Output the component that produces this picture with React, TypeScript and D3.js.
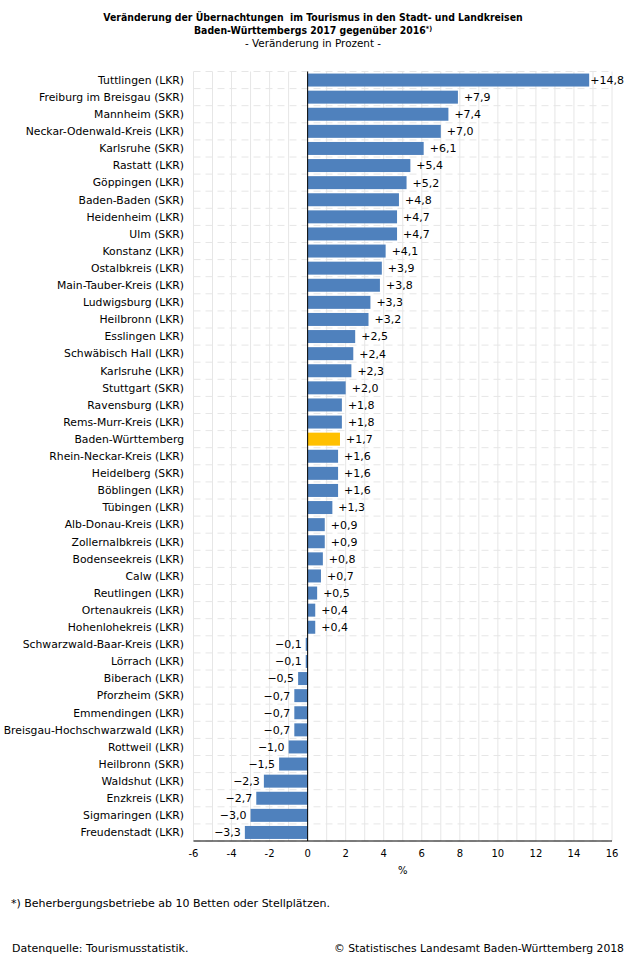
import React from "react";
import * as d3 from "d3";

const categories: string[] = [
  "Tuttlingen (LKR)", "Freiburg im Breisgau (SKR)", "Mannheim (SKR)", "Neckar-Odenwald-Kreis (LKR)",
  "Karlsruhe (SKR)", "Rastatt (LKR)", "Göppingen (LKR)", "Baden-Baden (SKR)", "Heidenheim (LKR)",
  "Ulm (SKR)", "Konstanz (LKR)", "Ostalbkreis (LKR)", "Main-Tauber-Kreis (LKR)", "Ludwigsburg (LKR)",
  "Heilbronn (LKR)", "Esslingen LKR)", "Schwäbisch Hall (LKR)", "Karlsruhe (LKR)", "Stuttgart (SKR)",
  "Ravensburg (LKR)", "Rems-Murr-Kreis (LKR)", "Baden-Württemberg", "Rhein-Neckar-Kreis (LKR)",
  "Heidelberg (SKR)", "Böblingen (LKR)", "Tübingen (LKR)", "Alb-Donau-Kreis (LKR)", "Zollernalbkreis (LKR)",
  "Bodenseekreis (LKR)", "Calw (LKR)", "Reutlingen (LKR)", "Ortenaukreis (LKR)", "Hohenlohekreis (LKR)",
  "Schwarzwald-Baar-Kreis (LKR)", "Lörrach (LKR)", "Biberach (LKR)", "Pforzheim (SKR)", "Emmendingen (LKR)",
  "Breisgau-Hochschwarzwald (LKR)", "Rottweil (LKR)", "Heilbronn (SKR)", "Waldshut (LKR)", "Enzkreis (LKR)",
  "Sigmaringen (LKR)", "Freudenstadt (LKR)",
];

const values: number[] = [
  14.8, 7.9, 7.4, 7.0, 6.1, 5.4, 5.2, 4.8, 4.7, 4.7, 4.1, 3.9, 3.8, 3.3, 3.2, 2.5, 2.4, 2.3, 2.0,
  1.8, 1.8, 1.7, 1.6, 1.6, 1.6, 1.3, 0.9, 0.9, 0.8, 0.7, 0.5, 0.4, 0.4, -0.1, -0.1, -0.5, -0.7, -0.7,
  -0.7, -1.0, -1.5, -2.3, -2.7, -3.0, -3.3,
];

const highlight = "Baden-Württemberg";
const xTicks: number[] = [-6, -4, -2, 0, 2, 4, 6, 8, 10, 12, 14, 16];

const titleLines = [
  "Veränderung der Übernachtungen  im Tourismus in den Stadt- und Landkreisen",
  "Baden-Württembergs 2017 gegenüber 2016",
];
const subtitle = "- Veränderung in Prozent -";
const footnote = "*) Beherbergungsbetriebe ab 10 Betten oder Stellplätzen.";
const source = "Datenquelle: Tourismusstatistik.";
const copyright = "© Statistisches Landesamt Baden-Württemberg 2018";

const W = 626;
const H = 958;
const FONT = "Tahoma, Verdana, 'DejaVu Sans', sans-serif";
const TITLE_FONT = "'DejaVu Sans Condensed', Tahoma, 'DejaVu Sans', sans-serif";

export default function App() {
  const left = 193.5;
  const right = 612;
  const top = 71.5;
  const bottom = 841;

  const x = d3.scaleLinear().domain([-6, 16]).range([left, right]);
  const y = d3.scaleBand<string>().domain(categories).range([top, bottom]).paddingInner(0.24).paddingOuter(0.12);

  const gridX = d3.range(-6, 17, 1);
  const bandStep = y.step();
  const fmt = (v: number) => (v > 0 ? "+" : "\u2212") + d3.format(".1f")(Math.abs(v)).replace(".", ",");

  return (
    <svg width={W} height={H} style={{ position: "absolute", left: 0, top: 0, background: "#fff" }} fontFamily={FONT}>
      <rect x={0} y={0} width={W} height={H} fill="#fff" />
      {/* title */}
      <text x={313} y={21} textAnchor="middle" fontSize={10.4} fontWeight="bold" fill="#000"
        fontFamily={TITLE_FONT} style={{ whiteSpace: "pre" }}>{titleLines[0]}</text>
      <text x={313} y={34} textAnchor="middle" fontSize={10.4} fontWeight="bold" fill="#000" fontFamily={TITLE_FONT}>
        {titleLines[1]}
        <tspan fontSize={7} dy={-3}>*)</tspan>
      </text>
      <text x={313} y={47} textAnchor="middle" fontSize={10.4} fill="#000">{subtitle}</text>

      {/* grid */}
      {gridX.map((g) => (
        <line key={"gx" + g} x1={x(g)} x2={x(g)} y1={top} y2={bottom} stroke="#e6e6e6" strokeWidth={1} />
      ))}
      {d3.range(0, categories.length + 1).map((i) => (
        <line key={"gy" + i} x1={left} x2={right} y1={top + i * bandStep} y2={top + i * bandStep}
          stroke="#e6e6e6" strokeWidth={1} strokeDasharray="7,5" />
      ))}

      {/* bars */}
      {categories.map((c, i) => {
        const v = values[i];
        const x0 = x(Math.min(0, v));
        const w = Math.abs(x(v) - x(0));
        return (
          <rect key={c} x={x0} y={y(c)} width={w} height={y.bandwidth()}
            fill={c === highlight ? "#FFC000" : "#4F81BD"} />
        );
      })}

      {/* zero line */}
      <line x1={x(0)} x2={x(0)} y1={top} y2={bottom} stroke="#000" strokeWidth={1} />
      {/* x axis */}
      <line x1={left} x2={right} y1={bottom} y2={bottom} stroke="#000" strokeWidth={1} />

      {/* category labels */}
      {categories.map((c) => (
        <text key={"l" + c} x={184} y={(y(c) as number) + y.bandwidth() / 2} dy="0.35em" textAnchor="end" fontSize={10.8} fill="#000">{c}</text>
      ))}

      {/* value labels */}
      {categories.map((c, i) => {
        const v = values[i];
        const pos = v >= 0;
        return (
          <text key={"v" + c} x={pos ? x(v) + (v > 10 ? 1 : 6) : x(v) - 4} y={(y(c) as number) + y.bandwidth() / 2}
            dy="0.35em" textAnchor={pos ? "start" : "end"} fontSize={11} fill="#000">{fmt(v)}</text>
        );
      })}

      {/* tick labels */}
      {xTicks.map((t) => (
        <text key={"t" + t} x={x(t)} y={857} textAnchor="middle" fontSize={10} fill="#000">{String(t)}</text>
      ))}
      <text x={x(5)} y={874} textAnchor="middle" fontSize={10} fill="#000">%</text>

      {/* footer */}
      <text x={11} y={907} fontSize={11} fill="#000">{footnote}</text>
      <text x={12} y={952} fontSize={11} fill="#000">{source}</text>
      <text x={624} y={952} textAnchor="end" fontSize={10.8} fill="#000">{copyright}</text>
    </svg>
  );
}
